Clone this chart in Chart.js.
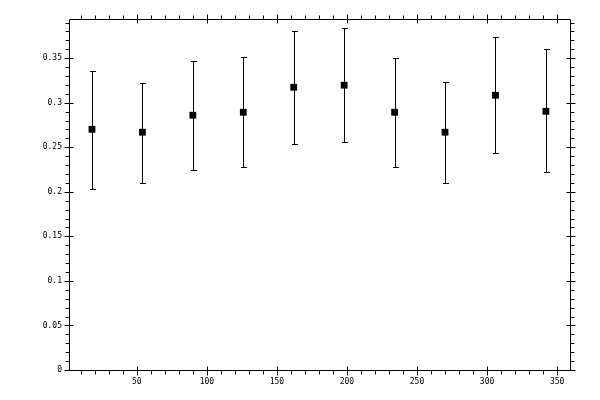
<!DOCTYPE html>
<html>
<head>
<meta charset="utf-8">
<script src="https://cdn.jsdelivr.net/npm/chart.js@4/dist/chart.umd.min.js"></script>
<style>
  html, body { margin: 0; padding: 0; background: #fff; }
  #wrap { width: 600px; height: 400px; }
</style>
</head>
<body>
<div id="wrap"><canvas id="ErrChart" width="600" height="400"></canvas></div>
<script>
// data
var xs    = [18, 54, 90, 126, 162, 198, 234, 270, 306, 342];
var ys    = [0.2702, 0.2669, 0.2860, 0.2893, 0.3174, 0.3197, 0.2893, 0.2669, 0.3084, 0.2904];
var yLow  = [0.2028, 0.2096, 0.2245, 0.2275, 0.2534, 0.2556, 0.2279, 0.2096, 0.2433, 0.2219];
var yHigh = [0.3361, 0.3226, 0.3473, 0.3515, 0.3810, 0.3837, 0.3507, 0.3230, 0.3736, 0.3601];

var xTickVals = [50, 100, 150, 200, 250, 300, 350];
var yTickVals = [0, 0.05, 0.1, 0.15, 0.2, 0.25, 0.3, 0.35];
var yTickLabels = ['0', '0.05', '0.1', '0.15', '0.2', '0.25', '0.3', '0.35'];

var points = xs.map(function (x, i) {
  return { x: x, y: ys[i] };
});

function crisp(v) { return Math.round(v) + 0.5; }

// frame, major/minor ticks on all four sides
var framePlugin = {
  id: 'frame',
  afterDraw: function (chart) {
    var ctx = chart.ctx, a = chart.chartArea;
    var sx = chart.scales.x, sy = chart.scales.y;
    var L = crisp(a.left), R = crisp(a.right), T = crisp(a.top), B = crisp(a.bottom);
    ctx.save();
    ctx.strokeStyle = '#000';
    ctx.lineWidth = 1;
    ctx.beginPath();
    ctx.rect(L, T, R - L, B - T);
    var v, p, major;
    for (v = 10; v <= 350; v += 10) {
      p = crisp(sx.getPixelForValue(v));
      major = v % 50 === 0;
      if (major) {
        ctx.moveTo(p, B - 4); ctx.lineTo(p, B + 5);
        ctx.moveTo(p, T - 5); ctx.lineTo(p, T + 4);
      } else {
        ctx.moveTo(p, B); ctx.lineTo(p, B + 4);
        ctx.moveTo(p, T); ctx.lineTo(p, T - 4);
      }
    }
    for (var k = 0; k <= 39; k++) {
      v = k / 100;
      p = crisp(sy.getPixelForValue(v));
      major = k % 5 === 0;
      if (major) {
        ctx.moveTo(L - 5, p); ctx.lineTo(L + 4, p);
        ctx.moveTo(R - 4, p); ctx.lineTo(R + 5, p);
      } else {
        ctx.moveTo(L, p); ctx.lineTo(L - 4, p);
        ctx.moveTo(R, p); ctx.lineTo(R + 4, p);
      }
    }
    ctx.stroke();
    ctx.restore();
  }
};

// vertical error bars with short caps
var errorBarPlugin = {
  id: 'errorBars',
  afterDatasetsDraw: function (chart) {
    var ctx = chart.ctx;
    var sx = chart.scales.x, sy = chart.scales.y;
    ctx.save();
    ctx.strokeStyle = '#000';
    ctx.lineWidth = 1;
    ctx.beginPath();
    xs.forEach(function (x, i) {
      var px = crisp(sx.getPixelForValue(x));
      var lo = Math.round(sy.getPixelForValue(yLow[i])) + 0.5;
      var hi = Math.round(sy.getPixelForValue(yHigh[i])) + 0.5;
      ctx.moveTo(px, lo); ctx.lineTo(px, hi);
      ctx.moveTo(px - 2.5, lo); ctx.lineTo(px + 3.5, lo);
      ctx.moveTo(px - 2.5, hi); ctx.lineTo(px + 3.5, hi);
    });
    ctx.stroke();
    ctx.restore();
  }
};

var ctx = document.getElementById('ErrChart').getContext('2d');
var ErrChart = new Chart(ctx, {
  type: 'scatter',
  data: {
    datasets: [{
      data: points,
      pointStyle: 'rect',
      pointRadius: 4.8,
      pointHoverRadius: 4.8,
      backgroundColor: '#000',
      borderWidth: 0
    }]
  },
  options: {
    responsive: false,
    animation: false,
    devicePixelRatio: 1,
    layout: { padding: { left: 0, right: 30, top: 19, bottom: 0 } },
    plugins: { legend: { display: false }, tooltip: { enabled: false } },
    scales: {
      x: {
        type: 'linear',
        min: 1.6,
        max: 359.2,
        grid: { display: false, drawTicks: false },
        border: { display: false },
        afterBuildTicks: function (scale) {
          scale.ticks = xTickVals.map(function (v) { return { value: v }; });
        },
        afterFit: function (scale) { scale.height = 30; },
        ticks: {
          padding: 7,
          maxRotation: 0,
          color: '#000',
          font: { family: 'DejaVu Sans Mono', size: 8 },
          callback: function (v) { return String(v); }
        }
      },
      y: {
        type: 'linear',
        min: 0,
        max: 0.394,
        grid: { display: false, drawTicks: false },
        border: { display: false },
        afterBuildTicks: function (scale) {
          scale.ticks = yTickVals.map(function (v) { return { value: v }; });
        },
        afterFit: function (scale) { scale.width = 69; },
        ticks: {
          padding: 7,
          color: '#000',
          font: { family: 'DejaVu Sans Mono', size: 8 },
          callback: function (v, i) { return yTickLabels[i]; }
        }
      }
    }
  },
  plugins: [framePlugin, errorBarPlugin]
});
</script>
</body>
</html>
